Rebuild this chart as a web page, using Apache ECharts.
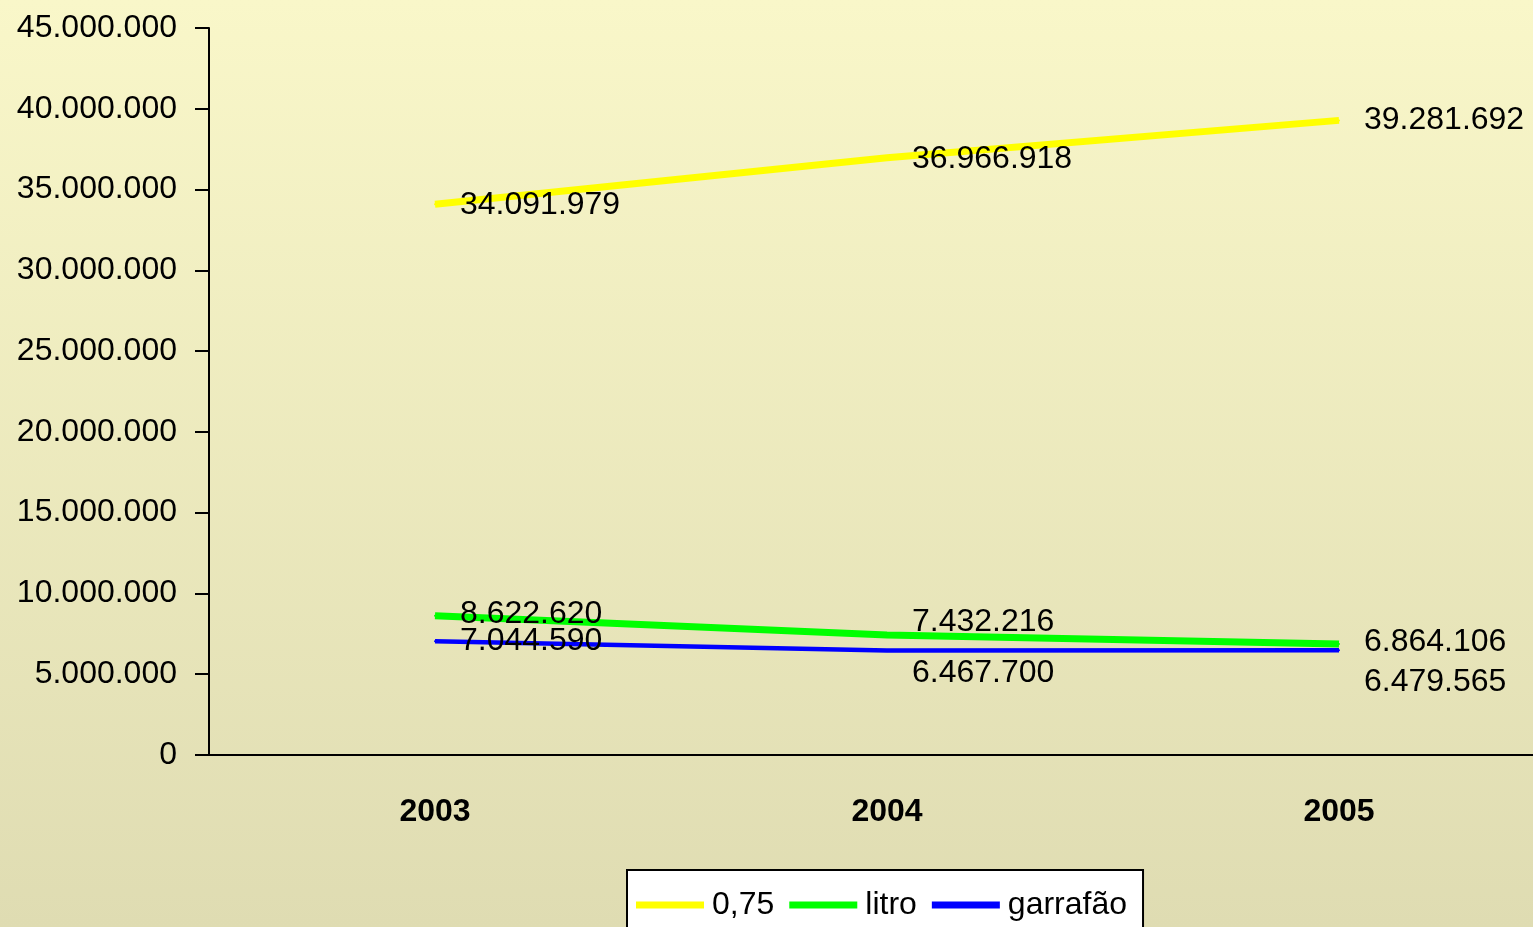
<!DOCTYPE html>
<html>
<head>
<meta charset="utf-8">
<script src="https://cdn.jsdelivr.net/npm/echarts@6/dist/echarts.min.js"></script>
<style>
  html, body { margin: 0; padding: 0; }
  #chart { width: 1533px; height: 927px; }
</style>
</head>
<body>
<div id="chart"></div>
<script>
// anos e valores (garrafas)
const years = ['2003', '2004', '2005'];
const serie075 = [34091979, 36966918, 39281692];
const serieLitro = [8622620, 7432216, 6864106];
const serieGarrafao = [7044590, 6467700, 6479565];
const yTicks = [0, 5000000, 10000000, 15000000, 20000000, 25000000, 30000000, 35000000, 40000000, 45000000];

// formato 1.234.567
function fmt(v) {
  return String(Math.round(v)).replace(/\B(?=(\d{3})+(?!\d))/g, '.');
}

const font = 'Liberation Sans, Arial, sans-serif';

let myChart = echarts.init(document.getElementById('chart'));

// shifts: desvio vertical de cada rótulo (para não se sobreporem)
function lineSerie(name, color, width, data, shifts) {
  return {
    name: name,
    type: 'line',
    data: data,
    symbol: 'circle',
    symbolSize: 2,
    showSymbol: true,
    showAllSymbol: true,
    lineStyle: { color: color, width: width },
    itemStyle: { color: color },
    label: {
      show: true,
      position: 'right',
      distance: 24,
      color: '#000',
      fontSize: 32,
      fontFamily: font,
      formatter: p => fmt(p.value)
    },
    labelLayout: p => ({ dy: shifts[p.dataIndex], hideOverlap: false })
  };
}

let option = {
  animation: false,
  backgroundColor: {
    type: 'linear', x: 0, y: 0, x2: 0, y2: 1,
    colorStops: [
      { offset: 0, color: '#f9f7c9' },
      { offset: 1, color: '#dfdcb2' }
    ]
  },
  grid: { left: 209, top: 28, bottom: 172, width: 1356, outerBoundsMode: 'none', containLabel: false },
  xAxis: {
    type: 'category',
    data: years,
    boundaryGap: true,
    axisLine: { lineStyle: { color: '#000', width: 2 } },
    axisTick: { length: 12, lineStyle: { color: '#000', width: 2 } },
    axisLabel: { margin: 41, color: '#000', fontSize: 32, fontWeight: 'bold', fontFamily: font },
    splitLine: { show: false }
  },
  yAxis: {
    type: 'value',
    min: yTicks[0],
    max: yTicks[yTicks.length - 1],
    interval: yTicks[1] - yTicks[0],
    axisLine: { show: true, lineStyle: { color: '#000', width: 2 } },
    axisTick: { show: true, length: 14, lineStyle: { color: '#000', width: 2 } },
    axisLabel: { margin: 32, color: '#000', fontSize: 32, fontFamily: font, formatter: v => fmt(v) },
    splitLine: { show: false }
  },
  legend: {
    left: 627,
    top: 870,
    backgroundColor: '#fff',
    borderColor: '#000',
    borderWidth: 2,
    borderRadius: 0,
    padding: [19, 16, 30, 9],
    icon: 'rect',
    itemWidth: 68,
    itemHeight: 7,
    itemGap: 15,
    textStyle: { color: '#000', fontSize: 32, fontFamily: font, padding: [0, 0, 0, 3] },
    data: ['0,75', 'litro', 'garrafão']
  },
  series: [
    lineSerie('0,75', '#ffff00', 7, serie075, [1, 1, 0]),
    lineSerie('litro', '#00ff00', 7, serieLitro, [-2, -13, -2]),
    lineSerie('garrafão', '#0000ff', 4.5, serieGarrafao, [0, 23, 32])
  ]
};

myChart.setOption(option);
</script>
</body>
</html>
